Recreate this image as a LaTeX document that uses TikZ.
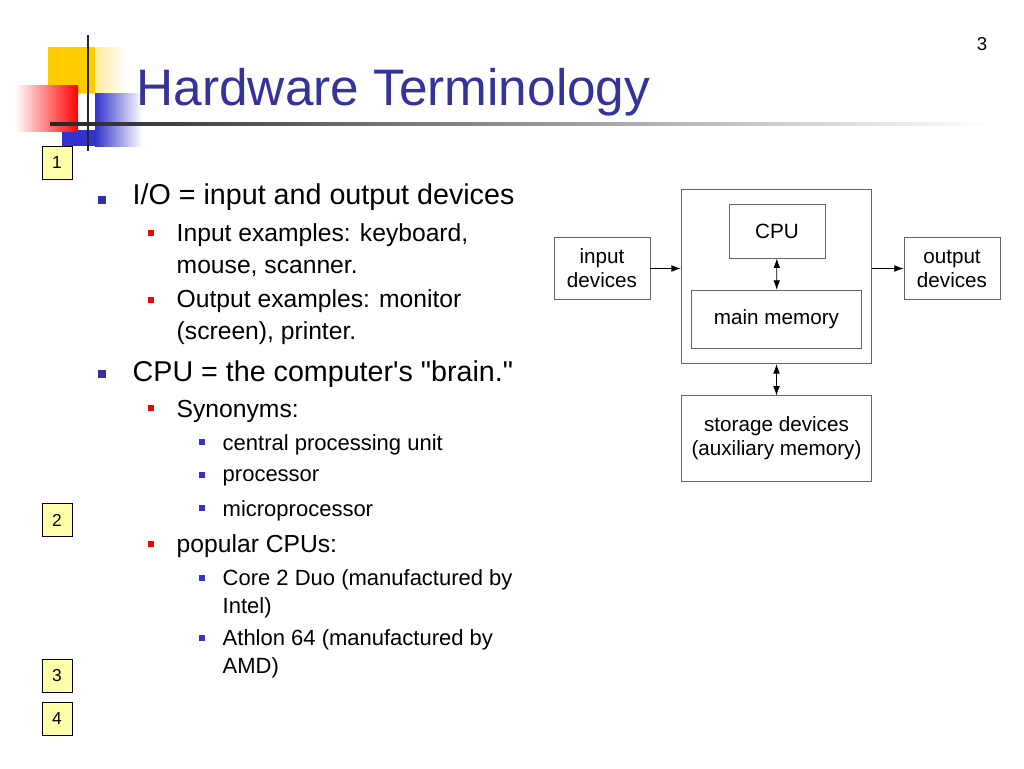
\documentclass[tikz,border=0pt]{standalone}
\usepackage{fontspec}
\setmainfont{Liberation Sans}
\newfontfamily\plainquote{Liberation Sans}
\usetikzlibrary{arrows.meta,positioning}
\definecolor{titleblue}{RGB}{51,51,153}
\definecolor{deco yellow}{RGB}{255,204,0}
\definecolor{deco blue}{RGB}{51,51,204}
\definecolor{num yellow}{RGB}{255,255,170}
\tikzset{
  box/.style={draw=black!60,line width=0.6pt,align=center,font=\fontsize{15.5}{18}\selectfont,inner sep=0pt},
  link/.style={-{Latex[length=7pt,width=5pt]},line width=0.5pt},
  both/.style={{Latex[length=7pt,width=5pt]}-{Latex[length=7pt,width=5pt]},line width=0.5pt},
  numbox/.style={draw,fill=num yellow,minimum width=22.5pt,minimum height=25pt,font=\fontsize{13}{14}\selectfont},
  lone/.style={anchor=west,font=\fontsize{21.5}{24}\selectfont},
  ltwo/.style={anchor=west,align=left,font=\fontsize{18.5}{24}\selectfont},
  lthree/.style={anchor=west,align=left,font=\fontsize{16.5}{21}\selectfont}
}
\begin{document}
\begin{tikzpicture}[x=0.75pt,y=-0.75pt]
\useasboundingbox (0,0) rectangle (1024,768);
% corner decoration
\shade[left color=deco yellow,right color=white] (48,47) rectangle (125,93);
\fill[deco yellow] (48,47) rectangle (95,93);
\shade[left color=deco blue,right color=white] (95,93) rectangle (142,146);
\fill[deco blue] (62,130) rectangle (95,146);
\shade[left color=white,right color=red] (15,85) rectangle (78,131);
\draw[line width=2.2pt,black!85] (88,35) -- (88,151);
\shade[left color=black!85,right color=white] (50,122.5) rectangle (990,125.5);
\node[anchor=west,text=titleblue,font=\fontsize{38.5}{44}\selectfont] (title) at (132,92) {Hardware Terminology};
\node[font=\fontsize{14}{16}\selectfont\rmfamily] (page) at (982,44) {3};
% numbers
\node[numbox] (n1) at (57,163) {1};
\node[numbox] (n2) at (57,520) {2};
\node[numbox] (n3) at (57,676) {3};
\node[numbox] (n4) at (57,719) {4};
% bullets
\foreach \y in {196,370} \fill[titleblue] (98,\y) rectangle ++(8,8);
\foreach \y in {230,297,405,541} \fill[red] (148,\y) rectangle ++(6,6);
\foreach \y in {439,472,505,575,635} \fill[deco blue] (199,\y) rectangle ++(6,6);
\node[lone] (io) at (128,197) {I/O = input and output devices};
\node[ltwo] (inex) at (172,250) {Input examples: keyboard,\\mouse, scanner.};
\node[ltwo] (outex) at (172,317) {Output examples: monitor\\(screen), printer.};
\node[lone] (cpu) at (128,374) {CPU = the computer\textquotesingle s {\plainquote"}brain.{\plainquote"}};
\node[ltwo] (syn) at (172,411) {Synonyms:};
\node[lthree] (cpu1) at (218,445) {central processing unit};
\node[lthree] (cpu2) at (218,478) {processor};
\node[lthree] (cpu3) at (218,511) {microprocessor};
\node[ltwo] (pop) at (172,546) {popular CPUs:};
\node[lthree] (core) at (218,594) {Core 2 Duo (manufactured by\\Intel)};
\node[lthree] (athlon) at (218,654) {Athlon 64 (manufactured by\\AMD)};
% diagram
\node[box,minimum width=72pt,minimum height=47pt] (indev) at (602,268.5) {input\\devices};
\node[box,minimum width=143pt,minimum height=131pt] (comp) at (776.5,276.5) {};
\node[box,minimum width=72pt,minimum height=40pt] (cpubox) at (777,231.5) {CPU};
\node[box,minimum width=127pt,minimum height=43.5pt] (mem) at (776.5,319) {main memory};
\node[box,minimum width=72pt,minimum height=47pt] (outdev) at (952,268.5) {output\\devices};
\node[box,minimum width=143pt,minimum height=64pt] (store) at (776.5,438.5) {storage devices\\(auxiliary memory)};
\draw[link] (indev) -- (comp.west|-indev);
\draw[link] (comp.east|-outdev) -- (outdev);
\draw[both] (cpubox) -- (mem);
\draw[both] (comp) -- (store);
\end{tikzpicture}
\end{document}
